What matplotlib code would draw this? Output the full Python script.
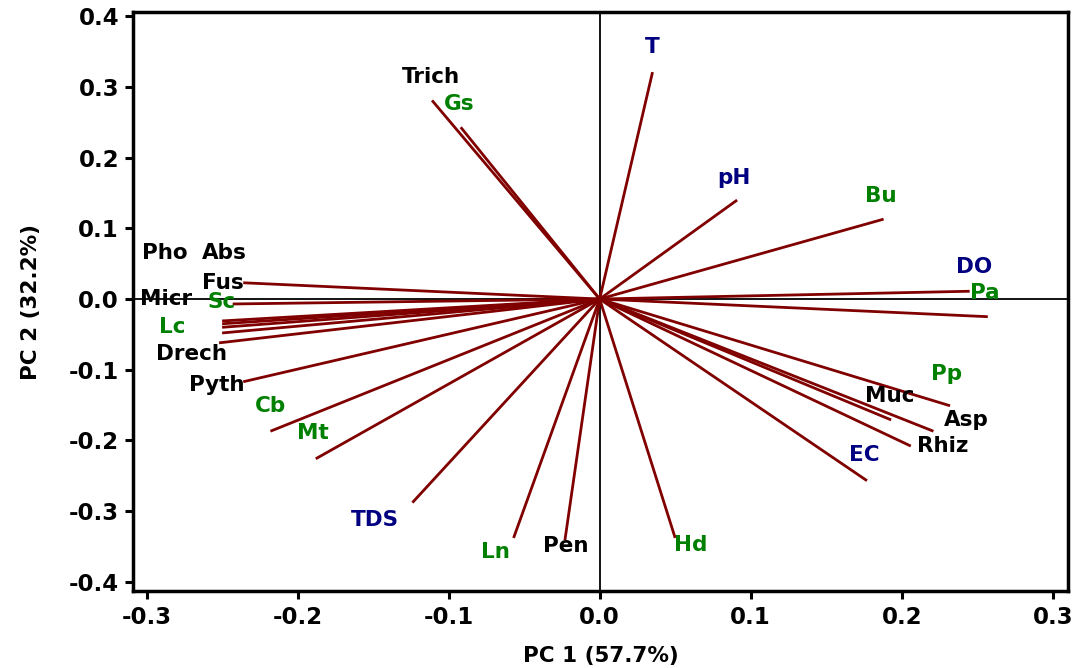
import matplotlib
matplotlib.use("Agg")
import matplotlib.pyplot as plt

# Variable names
variables = ["Trich", "Gs", "T", "pH", "Bu", "Pa", "DO", "Pp", "Muc", "Asp", "Rhiz", "EC",
             "Hd", "Pen", "Ln", "TDS", "Mt", "Cb", "Pyth", "Drech", "Lc", "Abs", "Pho",
             "Micr", "Sc", "Fus"]
# PC1 loadings
pc1 = [-0.111, -0.092, 0.035, 0.091, 0.188, 0.245, 0.257, 0.232, 0.193, 0.221, 0.206, 0.177,
       0.050, -0.023, -0.057, -0.124, -0.188, -0.218, -0.236, -0.252, -0.250, -0.250, -0.250,
       -0.250, -0.243, -0.236]
# PC2 loadings
pc2 = [0.281, 0.243, 0.321, 0.140, 0.113, 0.011, -0.025, -0.151, -0.171, -0.187, -0.208, -0.257,
       -0.338, -0.341, -0.338, -0.288, -0.226, -0.187, -0.117, -0.062, -0.048, -0.040, -0.035,
       -0.031, -0.007, 0.023]
# Label groups
group = ["fungi", "plant", "env", "env", "plant", "plant", "env", "plant", "fungi", "fungi",
         "fungi", "env", "plant", "fungi", "plant", "env", "plant", "plant", "fungi", "fungi",
         "plant", "fungi", "fungi", "fungi", "plant", "fungi"]
# Label positions (data units)
label_x = [-0.112, -0.093, 0.035, 0.089, 0.186, 0.255, 0.248, 0.230, 0.192, 0.243, 0.227, 0.1755,
           0.060, -0.0225, -0.069, -0.149, -0.190, -0.218, -0.2536, -0.270, -0.283, -0.2483, -0.288,
           -0.2874, -0.2503, -0.2497]
label_y = [0.314, 0.276, 0.356, 0.171, 0.146, 0.0085, 0.045, -0.106, -0.137, -0.171, -0.208, -0.2205,
           -0.348, -0.349, -0.358, -0.312, -0.189, -0.151, -0.122, -0.078, -0.040, 0.065, 0.065,
           0.000, -0.004, 0.023]

colors = {"fungi": "black", "plant": "#008000", "env": "#000080"}

fig = plt.figure(figsize=(10.77, 6.68), dpi=100)
ax = fig.add_axes([0.1235, 0.1153, 0.868, 0.8667])

ax.axhline(0, color="black", lw=1.3, zorder=1)
ax.axvline(0, color="black", lw=1.3, zorder=1)

for x, y in zip(pc1, pc2):
    ax.plot([0, x], [0, y], color="#800000", lw=2.0, solid_capstyle="butt", zorder=2)

for name, g, lx, ly in zip(variables, group, label_x, label_y):
    ax.text(lx, ly, name, color=colors[g], fontsize=15.5, fontweight="bold",
            ha="center", va="center", zorder=3, family="DejaVu Sans")

ax.set_xlim(-0.309, 0.310)
ax.set_ylim(-0.413, 0.406)
ax.set_xticks([-0.3, -0.2, -0.1, 0.0, 0.1, 0.2, 0.3])
ax.set_yticks([-0.4, -0.3, -0.2, -0.1, 0.0, 0.1, 0.2, 0.3, 0.4])
ax.set_xticklabels(["-0.3", "-0.2", "-0.1", "0.0", "0.1", "0.2", "0.3"])
ax.set_yticklabels(["-0.4", "-0.3", "-0.2", "-0.1", "0.0", "0.1", "0.2", "0.3", "0.4"])
for lab in ax.get_xticklabels() + ax.get_yticklabels():
    lab.set_fontweight("bold")
    lab.set_fontsize(16.5)
ax.tick_params(axis="both", direction="out", length=6, width=2.2, pad=4)
ax.tick_params(axis="x", pad=5)
for s in ax.spines.values():
    s.set_linewidth(2.5)

ax.set_xlabel("PC 1 (57.7%)", fontsize=15.5, fontweight="bold", labelpad=12)
ax.set_ylabel("PC 2 (32.2%)", fontsize=15.5, fontweight="bold", labelpad=20)

fig.savefig("out.png", dpi=100)
